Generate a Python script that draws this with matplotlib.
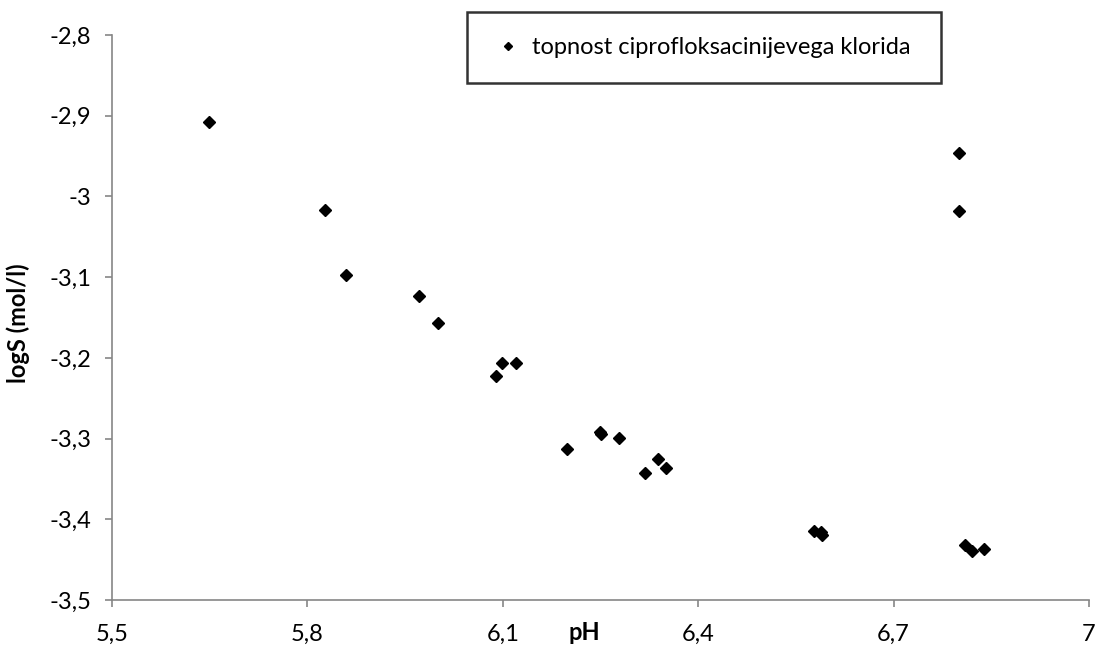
import matplotlib

matplotlib.use("Agg")
import matplotlib.pyplot as plt

ph = [
    5.649, 5.827, 5.859, 5.971, 6.000, 6.090, 6.099, 6.120,
    6.199, 6.249, 6.251, 6.279, 6.319, 6.339, 6.350,
    6.578, 6.588, 6.590, 6.800, 6.800, 6.809, 6.821, 6.839,
]
log_s = [
    -2.908, -3.017, -3.097, -3.123, -3.157, -3.222, -3.206, -3.206,
    -3.313, -3.292, -3.294, -3.299, -3.343, -3.325, -3.337,
    -3.415, -3.416, -3.420, -2.946, -3.018, -3.432, -3.439, -3.437,
]
x_ticks = [5.5, 5.8, 6.1, 6.4, 6.7, 7.0]
x_labels = ["5,5", "5,8", "6,1", "6,4", "6,7", "7"]
y_ticks = [-3.5, -3.4, -3.3, -3.2, -3.1, -3.0, -2.9, -2.8]
y_labels = ["-3,5", "-3,4", "-3,3", "-3,2", "-3,1", "-3", "-2,9", "-2,8"]
series_name = "topnost ciprofloksacinijevega klorida"

plt.rcParams["font.family"] = ["Lato", "DejaVu Sans"]

fig = plt.figure(figsize=(10.97, 6.48), dpi=100)
ax = fig.add_axes([112 / 1097, 1 - 600 / 648, 977 / 1097, 565 / 648])

ax.plot(ph, log_s, linestyle="none", marker="D", markersize=6.5,
        color="black", label=series_name)

ax.set_xlim(5.5, 7.0)
ax.set_ylim(-3.5, -2.8)
ax.set_xticks(x_ticks)
ax.set_xticklabels(x_labels)
ax.set_yticks(y_ticks)
ax.set_yticklabels(y_labels)

grey = "#868686"
for side in ("top", "right"):
    ax.spines[side].set_visible(False)
for side in ("left", "bottom"):
    ax.spines[side].set_color(grey)
    ax.spines[side].set_linewidth(1.2)
ax.tick_params(direction="out", length=5, width=1.2, color=grey,
               labelsize=17, labelcolor="black")
ax.tick_params(axis="x", pad=12)
ax.tick_params(axis="y", pad=10)

ax.set_xlabel("pH", fontsize=17, fontweight="bold", va="center")
ax.xaxis.set_label_coords((584 - 112) / 977, -(633 - 600) / 565)
ax.set_ylabel("logS (mol/l)", fontsize=17, fontweight="bold", va="center")
ax.yaxis.set_label_coords(-(112 - 18) / 977, 0.49)

legend = fig.legend(
    loc="upper left",
    bbox_to_anchor=(467 / 1097, 1 - 12 / 648, 474 / 1097, 0),
    mode="expand",
    borderaxespad=0,
    fontsize=17,
    frameon=True,
    fancybox=False,
    markerscale=0.7,
    handlelength=1.4,
    handletextpad=0.3,
    borderpad=1.05,
)
frame = legend.get_frame()
frame.set_edgecolor("black")
frame.set_linewidth(1.8)

fig.savefig("out.png", dpi=100, facecolor="white")
